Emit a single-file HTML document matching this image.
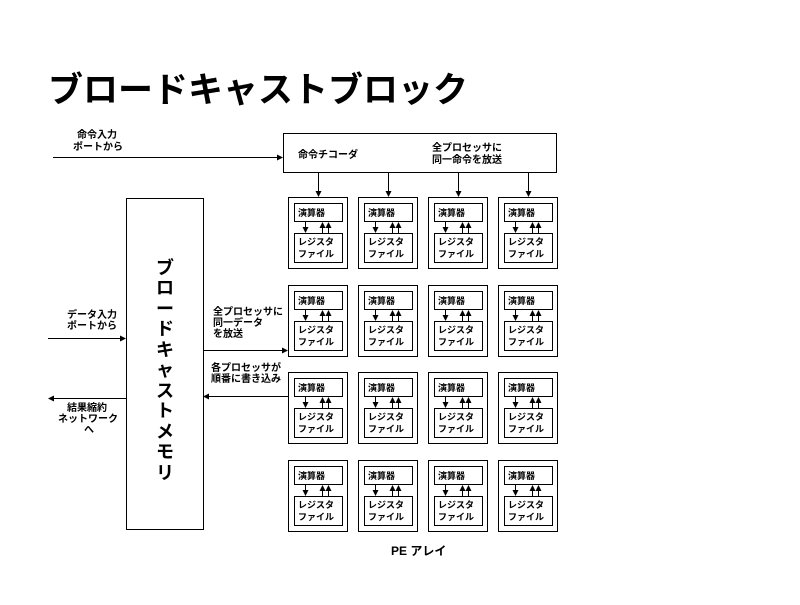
<!DOCTYPE html>
<html><head><meta charset="utf-8"><style>
body{margin:0;background:#fff;}
svg text{font-family:"Liberation Sans","Noto Sans CJK JP",sans-serif;font-weight:bold;fill:#000;}
.b{fill:none;stroke:#000;stroke-width:1}
</style></head><body>
<svg width="800" height="600" xmlns="http://www.w3.org/2000/svg">
<defs><marker id="a" markerWidth="6" markerHeight="6" refX="5" refY="3" orient="auto" markerUnits="userSpaceOnUse"><path d="M0,0 L6,3 L0,6z" fill="#000"/></marker></defs>
<text x="48" y="102" font-size="35">ブロードキャストブロック</text>
<g stroke="#000" fill="none" stroke-width="1">
<rect x="283.5" y="133.5" width="273" height="39"/>
<rect x="126.5" y="198.5" width="77" height="331"/>
<line x1="53" y1="157.5" x2="282" y2="157.5" marker-end="url(#a)"/>
<line x1="48" y1="338.5" x2="125" y2="338.5" marker-end="url(#a)"/>
<line x1="126" y1="398.5" x2="49" y2="398.5" marker-end="url(#a)"/>
<line x1="203" y1="350.5" x2="287" y2="350.5" marker-end="url(#a)"/>
<line x1="288" y1="396.5" x2="204" y2="396.5" marker-end="url(#a)"/>
<line x1="318.5" y1="173" x2="318.5" y2="196" marker-end="url(#a)"/>
<line x1="388.5" y1="173" x2="388.5" y2="196" marker-end="url(#a)"/>
<line x1="458.5" y1="173" x2="458.5" y2="196" marker-end="url(#a)"/>
<line x1="528.5" y1="173" x2="528.5" y2="196" marker-end="url(#a)"/>
</g>
<text x="298" y="158" font-size="10">命令チコーダ</text>
<text x="432" y="151" font-size="10">全プロセッサに</text>
<text x="432" y="163" font-size="10">同一命令を放送</text>
<text x="77" y="138" font-size="10">命令入力</text>
<text x="73" y="150" font-size="10">ポートから</text>
<text x="67" y="318" font-size="10">データ入力</text>
<text x="67" y="329" font-size="10">ポートから</text>
<text x="67" y="411" font-size="10">結果縮約</text>
<text x="58" y="422" font-size="10">ネットワーク</text>
<text x="84" y="433" font-size="10">へ</text>
<text x="213" y="315" font-size="10">全プロセッサに</text>
<text x="213" y="326" font-size="10">同一データ</text>
<text x="213" y="337" font-size="10">を放送</text>
<text x="211" y="371" font-size="10">各プロセッサが</text>
<text x="211" y="382" font-size="10">順番に書き込み</text>
<text x="391" y="555" font-size="12">PE アレイ</text>
<g font-size="18">
<text x="156" y="274">ブ</text><text x="156" y="294">ロ</text><text x="156" y="315">ー</text><text x="156" y="335">ド</text><text x="156" y="356">キ</text><text x="156" y="376">ャ</text><text x="156" y="397">ス</text><text x="156" y="417">ト</text><text x="156" y="438">メ</text><text x="156" y="458">モ</text><text x="156" y="479">リ</text>
</g>
<g transform="translate(288,197)"><rect class="b" x=".5" y=".5" width="59" height="71"/><rect class="b" x="6.5" y="6.5" width="48" height="18"/><rect class="b" x="6.5" y="36.5" width="48" height="29"/><text x="10" y="19" font-size="9">演算器</text><text x="10" y="48" font-size="9">レジスタ</text><text x="10" y="60" font-size="9">ファイル</text><line x1="17.5" y1="25" x2="17.5" y2="35" stroke="#000" marker-end="url(#a)"/><line x1="34.5" y1="36" x2="34.5" y2="26" stroke="#000" marker-end="url(#a)"/><line x1="40.5" y1="36" x2="40.5" y2="26" stroke="#000" marker-end="url(#a)"/></g>
<g transform="translate(358,197)"><rect class="b" x=".5" y=".5" width="59" height="71"/><rect class="b" x="6.5" y="6.5" width="48" height="18"/><rect class="b" x="6.5" y="36.5" width="48" height="29"/><text x="10" y="19" font-size="9">演算器</text><text x="10" y="48" font-size="9">レジスタ</text><text x="10" y="60" font-size="9">ファイル</text><line x1="17.5" y1="25" x2="17.5" y2="35" stroke="#000" marker-end="url(#a)"/><line x1="34.5" y1="36" x2="34.5" y2="26" stroke="#000" marker-end="url(#a)"/><line x1="40.5" y1="36" x2="40.5" y2="26" stroke="#000" marker-end="url(#a)"/></g>
<g transform="translate(428,197)"><rect class="b" x=".5" y=".5" width="59" height="71"/><rect class="b" x="6.5" y="6.5" width="48" height="18"/><rect class="b" x="6.5" y="36.5" width="48" height="29"/><text x="10" y="19" font-size="9">演算器</text><text x="10" y="48" font-size="9">レジスタ</text><text x="10" y="60" font-size="9">ファイル</text><line x1="17.5" y1="25" x2="17.5" y2="35" stroke="#000" marker-end="url(#a)"/><line x1="34.5" y1="36" x2="34.5" y2="26" stroke="#000" marker-end="url(#a)"/><line x1="40.5" y1="36" x2="40.5" y2="26" stroke="#000" marker-end="url(#a)"/></g>
<g transform="translate(498,197)"><rect class="b" x=".5" y=".5" width="59" height="71"/><rect class="b" x="6.5" y="6.5" width="48" height="18"/><rect class="b" x="6.5" y="36.5" width="48" height="29"/><text x="10" y="19" font-size="9">演算器</text><text x="10" y="48" font-size="9">レジスタ</text><text x="10" y="60" font-size="9">ファイル</text><line x1="17.5" y1="25" x2="17.5" y2="35" stroke="#000" marker-end="url(#a)"/><line x1="34.5" y1="36" x2="34.5" y2="26" stroke="#000" marker-end="url(#a)"/><line x1="40.5" y1="36" x2="40.5" y2="26" stroke="#000" marker-end="url(#a)"/></g>
<g transform="translate(288,285)"><rect class="b" x=".5" y=".5" width="59" height="71"/><rect class="b" x="6.5" y="6.5" width="48" height="18"/><rect class="b" x="6.5" y="36.5" width="48" height="29"/><text x="10" y="19" font-size="9">演算器</text><text x="10" y="48" font-size="9">レジスタ</text><text x="10" y="60" font-size="9">ファイル</text><line x1="17.5" y1="25" x2="17.5" y2="35" stroke="#000" marker-end="url(#a)"/><line x1="34.5" y1="36" x2="34.5" y2="26" stroke="#000" marker-end="url(#a)"/><line x1="40.5" y1="36" x2="40.5" y2="26" stroke="#000" marker-end="url(#a)"/></g>
<g transform="translate(358,285)"><rect class="b" x=".5" y=".5" width="59" height="71"/><rect class="b" x="6.5" y="6.5" width="48" height="18"/><rect class="b" x="6.5" y="36.5" width="48" height="29"/><text x="10" y="19" font-size="9">演算器</text><text x="10" y="48" font-size="9">レジスタ</text><text x="10" y="60" font-size="9">ファイル</text><line x1="17.5" y1="25" x2="17.5" y2="35" stroke="#000" marker-end="url(#a)"/><line x1="34.5" y1="36" x2="34.5" y2="26" stroke="#000" marker-end="url(#a)"/><line x1="40.5" y1="36" x2="40.5" y2="26" stroke="#000" marker-end="url(#a)"/></g>
<g transform="translate(428,285)"><rect class="b" x=".5" y=".5" width="59" height="71"/><rect class="b" x="6.5" y="6.5" width="48" height="18"/><rect class="b" x="6.5" y="36.5" width="48" height="29"/><text x="10" y="19" font-size="9">演算器</text><text x="10" y="48" font-size="9">レジスタ</text><text x="10" y="60" font-size="9">ファイル</text><line x1="17.5" y1="25" x2="17.5" y2="35" stroke="#000" marker-end="url(#a)"/><line x1="34.5" y1="36" x2="34.5" y2="26" stroke="#000" marker-end="url(#a)"/><line x1="40.5" y1="36" x2="40.5" y2="26" stroke="#000" marker-end="url(#a)"/></g>
<g transform="translate(498,285)"><rect class="b" x=".5" y=".5" width="59" height="71"/><rect class="b" x="6.5" y="6.5" width="48" height="18"/><rect class="b" x="6.5" y="36.5" width="48" height="29"/><text x="10" y="19" font-size="9">演算器</text><text x="10" y="48" font-size="9">レジスタ</text><text x="10" y="60" font-size="9">ファイル</text><line x1="17.5" y1="25" x2="17.5" y2="35" stroke="#000" marker-end="url(#a)"/><line x1="34.5" y1="36" x2="34.5" y2="26" stroke="#000" marker-end="url(#a)"/><line x1="40.5" y1="36" x2="40.5" y2="26" stroke="#000" marker-end="url(#a)"/></g>
<g transform="translate(288,372)"><rect class="b" x=".5" y=".5" width="59" height="71"/><rect class="b" x="6.5" y="6.5" width="48" height="18"/><rect class="b" x="6.5" y="36.5" width="48" height="29"/><text x="10" y="19" font-size="9">演算器</text><text x="10" y="48" font-size="9">レジスタ</text><text x="10" y="60" font-size="9">ファイル</text><line x1="17.5" y1="25" x2="17.5" y2="35" stroke="#000" marker-end="url(#a)"/><line x1="34.5" y1="36" x2="34.5" y2="26" stroke="#000" marker-end="url(#a)"/><line x1="40.5" y1="36" x2="40.5" y2="26" stroke="#000" marker-end="url(#a)"/></g>
<g transform="translate(358,372)"><rect class="b" x=".5" y=".5" width="59" height="71"/><rect class="b" x="6.5" y="6.5" width="48" height="18"/><rect class="b" x="6.5" y="36.5" width="48" height="29"/><text x="10" y="19" font-size="9">演算器</text><text x="10" y="48" font-size="9">レジスタ</text><text x="10" y="60" font-size="9">ファイル</text><line x1="17.5" y1="25" x2="17.5" y2="35" stroke="#000" marker-end="url(#a)"/><line x1="34.5" y1="36" x2="34.5" y2="26" stroke="#000" marker-end="url(#a)"/><line x1="40.5" y1="36" x2="40.5" y2="26" stroke="#000" marker-end="url(#a)"/></g>
<g transform="translate(428,372)"><rect class="b" x=".5" y=".5" width="59" height="71"/><rect class="b" x="6.5" y="6.5" width="48" height="18"/><rect class="b" x="6.5" y="36.5" width="48" height="29"/><text x="10" y="19" font-size="9">演算器</text><text x="10" y="48" font-size="9">レジスタ</text><text x="10" y="60" font-size="9">ファイル</text><line x1="17.5" y1="25" x2="17.5" y2="35" stroke="#000" marker-end="url(#a)"/><line x1="34.5" y1="36" x2="34.5" y2="26" stroke="#000" marker-end="url(#a)"/><line x1="40.5" y1="36" x2="40.5" y2="26" stroke="#000" marker-end="url(#a)"/></g>
<g transform="translate(498,372)"><rect class="b" x=".5" y=".5" width="59" height="71"/><rect class="b" x="6.5" y="6.5" width="48" height="18"/><rect class="b" x="6.5" y="36.5" width="48" height="29"/><text x="10" y="19" font-size="9">演算器</text><text x="10" y="48" font-size="9">レジスタ</text><text x="10" y="60" font-size="9">ファイル</text><line x1="17.5" y1="25" x2="17.5" y2="35" stroke="#000" marker-end="url(#a)"/><line x1="34.5" y1="36" x2="34.5" y2="26" stroke="#000" marker-end="url(#a)"/><line x1="40.5" y1="36" x2="40.5" y2="26" stroke="#000" marker-end="url(#a)"/></g>
<g transform="translate(288,460)"><rect class="b" x=".5" y=".5" width="59" height="71"/><rect class="b" x="6.5" y="6.5" width="48" height="18"/><rect class="b" x="6.5" y="36.5" width="48" height="29"/><text x="10" y="19" font-size="9">演算器</text><text x="10" y="48" font-size="9">レジスタ</text><text x="10" y="60" font-size="9">ファイル</text><line x1="17.5" y1="25" x2="17.5" y2="35" stroke="#000" marker-end="url(#a)"/><line x1="34.5" y1="36" x2="34.5" y2="26" stroke="#000" marker-end="url(#a)"/><line x1="40.5" y1="36" x2="40.5" y2="26" stroke="#000" marker-end="url(#a)"/></g>
<g transform="translate(358,460)"><rect class="b" x=".5" y=".5" width="59" height="71"/><rect class="b" x="6.5" y="6.5" width="48" height="18"/><rect class="b" x="6.5" y="36.5" width="48" height="29"/><text x="10" y="19" font-size="9">演算器</text><text x="10" y="48" font-size="9">レジスタ</text><text x="10" y="60" font-size="9">ファイル</text><line x1="17.5" y1="25" x2="17.5" y2="35" stroke="#000" marker-end="url(#a)"/><line x1="34.5" y1="36" x2="34.5" y2="26" stroke="#000" marker-end="url(#a)"/><line x1="40.5" y1="36" x2="40.5" y2="26" stroke="#000" marker-end="url(#a)"/></g>
<g transform="translate(428,460)"><rect class="b" x=".5" y=".5" width="59" height="71"/><rect class="b" x="6.5" y="6.5" width="48" height="18"/><rect class="b" x="6.5" y="36.5" width="48" height="29"/><text x="10" y="19" font-size="9">演算器</text><text x="10" y="48" font-size="9">レジスタ</text><text x="10" y="60" font-size="9">ファイル</text><line x1="17.5" y1="25" x2="17.5" y2="35" stroke="#000" marker-end="url(#a)"/><line x1="34.5" y1="36" x2="34.5" y2="26" stroke="#000" marker-end="url(#a)"/><line x1="40.5" y1="36" x2="40.5" y2="26" stroke="#000" marker-end="url(#a)"/></g>
<g transform="translate(498,460)"><rect class="b" x=".5" y=".5" width="59" height="71"/><rect class="b" x="6.5" y="6.5" width="48" height="18"/><rect class="b" x="6.5" y="36.5" width="48" height="29"/><text x="10" y="19" font-size="9">演算器</text><text x="10" y="48" font-size="9">レジスタ</text><text x="10" y="60" font-size="9">ファイル</text><line x1="17.5" y1="25" x2="17.5" y2="35" stroke="#000" marker-end="url(#a)"/><line x1="34.5" y1="36" x2="34.5" y2="26" stroke="#000" marker-end="url(#a)"/><line x1="40.5" y1="36" x2="40.5" y2="26" stroke="#000" marker-end="url(#a)"/></g>
</svg>
</body></html>
